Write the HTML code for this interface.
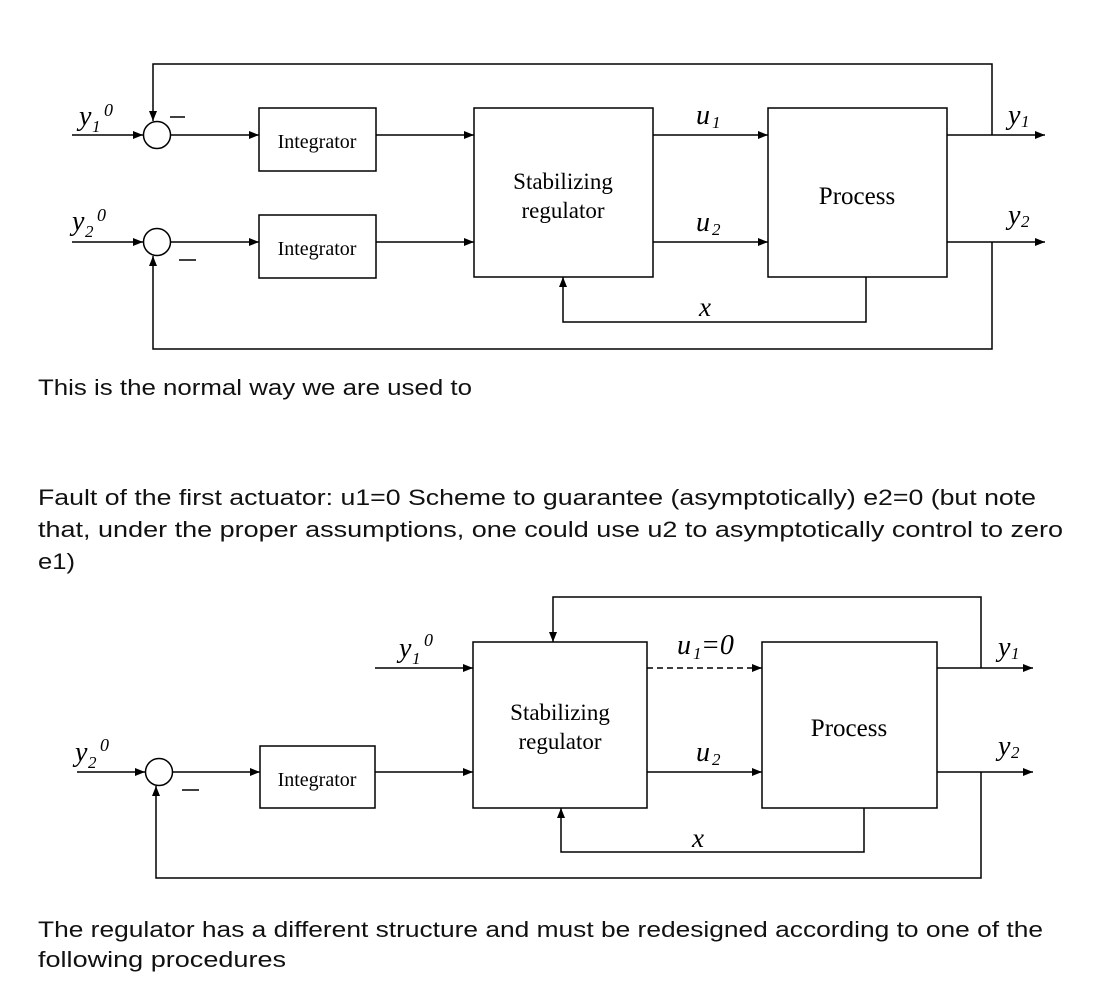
<!DOCTYPE html>
<html><head><meta charset="utf-8"><style>
html,body{margin:0;padding:0;background:#fff;}
svg{display:block;}
.s{font-family:"Liberation Serif",serif;fill:#000;}
.i{font-family:"Liberation Serif",serif;font-style:italic;fill:#000;}
.t{font-family:"Liberation Sans",sans-serif;fill:#111;font-size:22px;}
</style></head><body>
<svg width="1110" height="998" viewBox="0 0 1110 998" xmlns="http://www.w3.org/2000/svg">
<defs>
<marker id="a" markerWidth="10" markerHeight="8" refX="10" refY="4" orient="auto" markerUnits="userSpaceOnUse">
<path d="M0,0 L10,4 L0,8 z" fill="#000"/></marker>
</defs>
<g stroke="#000" stroke-width="1.5" fill="none">
<!-- Diagram 1 -->
<line x1="72" y1="135" x2="143" y2="135" marker-end="url(#a)"/>
<circle cx="157" cy="135" r="13.5" fill="#fff"/>
<line x1="171" y1="135" x2="259" y2="135" marker-end="url(#a)"/>
<rect x="259" y="108" width="117" height="63"/>
<line x1="376" y1="135" x2="474" y2="135" marker-end="url(#a)"/>
<line x1="72" y1="242" x2="143" y2="242" marker-end="url(#a)"/>
<circle cx="157" cy="242" r="13.5" fill="#fff"/>
<line x1="171" y1="242" x2="259" y2="242" marker-end="url(#a)"/>
<rect x="259" y="215" width="117" height="63"/>
<line x1="376" y1="242" x2="474" y2="242" marker-end="url(#a)"/>
<rect x="474" y="108" width="179" height="169"/>
<line x1="653" y1="135" x2="768" y2="135" marker-end="url(#a)"/>
<line x1="653" y1="242" x2="768" y2="242" marker-end="url(#a)"/>
<rect x="768" y="108" width="179" height="169"/>
<line x1="947" y1="135" x2="1045" y2="135" marker-end="url(#a)"/>
<line x1="947" y1="242" x2="1045" y2="242" marker-end="url(#a)"/>
<polyline points="992,135 992,64 153,64 153,121" marker-end="url(#a)"/>
<polyline points="992,242 992,349 153,349 153,256" marker-end="url(#a)"/>
<polyline points="866,277 866,322 563,322 563,277" marker-end="url(#a)"/>
<line x1="170" y1="117" x2="185" y2="117"/>
<line x1="179" y1="260" x2="196" y2="260"/>
<!-- Diagram 2 -->
<line x1="375" y1="668" x2="473" y2="668" marker-end="url(#a)"/>
<rect x="473" y="642" width="174" height="166"/>
<line x1="647" y1="668" x2="762" y2="668" stroke-dasharray="6,4" marker-end="url(#a)"/>
<line x1="647" y1="772" x2="762" y2="772" marker-end="url(#a)"/>
<rect x="762" y="642" width="175" height="166"/>
<line x1="937" y1="668" x2="1033" y2="668" marker-end="url(#a)"/>
<line x1="937" y1="772" x2="1033" y2="772" marker-end="url(#a)"/>
<polyline points="981,668 981,597 553,597 553,642" marker-end="url(#a)"/>
<polyline points="981,772 981,878 156,878 156,786" marker-end="url(#a)"/>
<polyline points="864,808 864,852 561,852 561,808" marker-end="url(#a)"/>
<line x1="77" y1="772" x2="145" y2="772" marker-end="url(#a)"/>
<circle cx="159" cy="772" r="13.5" fill="#fff"/>
<line x1="173" y1="772" x2="260" y2="772" marker-end="url(#a)"/>
<rect x="260" y="746" width="115" height="62"/>
<line x1="375" y1="772" x2="473" y2="772" marker-end="url(#a)"/>
<line x1="182" y1="790" x2="199" y2="790"/>
</g>
<!-- Diagram 1 text -->
<text class="s" x="317" y="148" font-size="20" text-anchor="middle">Integrator</text>
<text class="s" x="317" y="255" font-size="20" text-anchor="middle">Integrator</text>
<text class="s" x="563" y="189" font-size="23" text-anchor="middle">Stabilizing</text>
<text class="s" x="563" y="218" font-size="23" text-anchor="middle">regulator</text>
<text class="s" x="857" y="204" font-size="25" text-anchor="middle">Process</text>
<text class="i" x="79" y="125" font-size="28">y</text><text class="i" x="92" y="132" font-size="17">1</text><text class="i" x="104" y="116" font-size="18">0</text>
<text class="i" x="72" y="230" font-size="28">y</text><text class="i" x="85" y="237" font-size="17">2</text><text class="i" x="97" y="221" font-size="18">0</text>
<text class="i" x="696" y="124" font-size="28">u</text><text class="i" x="712" y="128" font-size="17">1</text>
<text class="i" x="696" y="231" font-size="28">u</text><text class="i" x="712" y="235" font-size="17">2</text>
<text class="i" x="1008" y="124" font-size="28">y</text><text class="i" x="1021" y="127" font-size="17">1</text>
<text class="i" x="1008" y="224" font-size="28">y</text><text class="i" x="1021" y="227" font-size="17">2</text>
<text class="i" x="699" y="316" font-size="27">x</text>
<!-- Diagram 2 text -->
<text class="s" x="317" y="786" font-size="20" text-anchor="middle">Integrator</text>
<text class="s" x="560" y="720" font-size="23" text-anchor="middle">Stabilizing</text>
<text class="s" x="560" y="749" font-size="23" text-anchor="middle">regulator</text>
<text class="s" x="849" y="736" font-size="25" text-anchor="middle">Process</text>
<text class="i" x="399" y="657" font-size="28">y</text><text class="i" x="412" y="664" font-size="17">1</text><text class="i" x="424" y="646" font-size="18">0</text>
<text class="i" x="75" y="761" font-size="28">y</text><text class="i" x="88" y="768" font-size="17">2</text><text class="i" x="100" y="751" font-size="18">0</text>
<text class="i" x="677" y="654" font-size="28">u</text><text class="i" x="693" y="659" font-size="17">1</text><text class="i" x="701" y="654" font-size="28">=0</text>
<text class="i" x="696" y="761" font-size="28">u</text><text class="i" x="712" y="765" font-size="17">2</text>
<text class="i" x="998" y="656" font-size="28">y</text><text class="i" x="1011" y="659" font-size="17">1</text>
<text class="i" x="998" y="755" font-size="28">y</text><text class="i" x="1011" y="758" font-size="17">2</text>
<text class="i" x="692" y="847" font-size="27">x</text>
<!-- Captions -->
<text class="t" x="38" y="395" textLength="434" lengthAdjust="spacingAndGlyphs">This is the normal way we are used to</text>
<text class="t" x="38" y="505" textLength="998" lengthAdjust="spacingAndGlyphs">Fault of the first actuator: u1=0 Scheme to guarantee (asymptotically) e2=0 (but note</text>
<text class="t" x="38" y="537" textLength="1025" lengthAdjust="spacingAndGlyphs">that, under the proper assumptions, one could use u2 to asymptotically control to zero</text>
<text class="t" x="38" y="569" textLength="37" lengthAdjust="spacingAndGlyphs">e1)</text>
<text class="t" x="38" y="937" textLength="1005" lengthAdjust="spacingAndGlyphs">The regulator has a different structure and must be redesigned according to one of the</text>
<text class="t" x="38" y="967" textLength="248" lengthAdjust="spacingAndGlyphs">following procedures</text>
</svg>
</body></html>
